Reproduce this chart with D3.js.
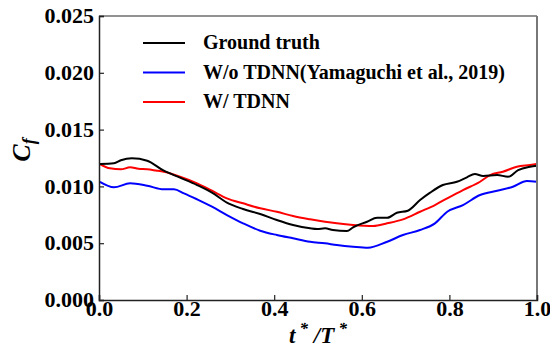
<!DOCTYPE html>
<html>
<head>
<meta charset="utf-8">
<script src="https://cdn.jsdelivr.net/npm/d3@7"></script>
<style>
  body { margin: 0; background: #fff; }
  text { font-family: "Liberation Serif", "Times New Roman", Times, "DejaVu Serif", serif; font-weight: bold; }
</style>
</head>
<body>
<div></div>
<script>
var width = 550, height = 351;
var margin = {top: 16, right: 13, bottom: 51, left: 99};
var serifFont = "'Liberation Serif', 'Times New Roman', Times, 'DejaVu Serif', serif";

// t*/T* sample positions and Cf values
var truthT = [0.002, 0.034, 0.05, 0.075, 0.110, 0.148, 0.185, 0.224, 0.258, 0.292, 0.329, 0.368, 0.406, 0.443, 0.482, 0.498, 0.516, 0.534, 0.566, 0.580, 0.612, 0.635, 0.658, 0.680, 0.705, 0.733, 0.756, 0.785, 0.817, 0.840, 0.858, 0.877, 0.909, 0.934, 0.957, 0.984, 1.0];
var truthCf = [0.01197, 0.01203, 0.01230, 0.01247, 0.01226, 0.01138, 0.01077, 0.01012, 0.00945, 0.00857, 0.00801, 0.00757, 0.00704, 0.00660, 0.00631, 0.00625, 0.00631, 0.00616, 0.00607, 0.00640, 0.00689, 0.00724, 0.00724, 0.00768, 0.00786, 0.00880, 0.00945, 0.01012, 0.01041, 0.01080, 0.01109, 0.01092, 0.01100, 0.01085, 0.01144, 0.01173, 0.01182];

var woT = [0.002, 0.034, 0.071, 0.110, 0.148, 0.171, 0.194, 0.224, 0.258, 0.292, 0.329, 0.368, 0.406, 0.443, 0.482, 0.516, 0.543, 0.580, 0.614, 0.658, 0.694, 0.733, 0.767, 0.795, 0.831, 0.870, 0.909, 0.945, 0.977, 1.0];
var woCf = [0.01039, 0.00992, 0.01027, 0.01006, 0.00974, 0.00974, 0.00939, 0.00886, 0.00821, 0.00748, 0.00675, 0.00610, 0.00572, 0.00543, 0.00513, 0.00499, 0.00484, 0.00469, 0.00460, 0.00513, 0.00572, 0.00616, 0.00675, 0.00777, 0.00836, 0.00924, 0.00962, 0.00997, 0.01048, 0.01041];

var wT = [0.002, 0.025, 0.050, 0.071, 0.090, 0.110, 0.130, 0.148, 0.185, 0.224, 0.258, 0.292, 0.329, 0.368, 0.406, 0.443, 0.482, 0.516, 0.543, 0.580, 0.626, 0.658, 0.694, 0.733, 0.767, 0.795, 0.831, 0.870, 0.893, 0.922, 0.954, 0.984, 1.0];
var wCf = [0.01197, 0.01159, 0.01150, 0.01168, 0.01155, 0.01151, 0.01140, 0.01129, 0.01085, 0.01027, 0.00962, 0.00895, 0.00851, 0.00807, 0.00777, 0.00739, 0.00710, 0.00689, 0.00675, 0.00660, 0.00651, 0.00675, 0.00710, 0.00777, 0.00836, 0.00895, 0.00968, 0.01041, 0.01100, 0.01129, 0.01173, 0.01188, 0.01197];

var seriesNames = ["Ground truth", "W/o TDNN(Yamaguchi et al., 2019)", "W/ TDNN"];
var seriesColors = ["#000000", "#0000ff", "#ff0000"];
var xTicks = [0, 0.2, 0.4, 0.6, 0.8, 1.0];
var yTicks = [0, 0.005, 0.010, 0.015, 0.020, 0.025];

var series = [
  {name: seriesNames[0], color: seriesColors[0], t: truthT, v: truthCf},
  {name: seriesNames[1], color: seriesColors[1], t: woT, v: woCf},
  {name: seriesNames[2], color: seriesColors[2], t: wT, v: wCf}
];

var svg = d3.select("div").append("svg")
    .attr("width", width)
    .attr("height", height)
    .style("font-family", serifFont);

var x = d3.scaleLinear().domain([0, 1]).range([margin.left, width - margin.right]);
var y = d3.scaleLinear().domain([0, 0.025]).range([height - margin.bottom, margin.top]);

var line = d3.line()
    .x(function(d) { return x(d[0]); })
    .y(function(d) { return y(d[1]); })
    .curve(d3.curveMonotoneX);

// curves, order: blue, red, black on top like the figure
[1, 2, 0].forEach(function(i) {
  var s = series[i];
  svg.append("path")
      .datum(s.t.map(function(t, j) { return [t, s.v[j]]; }))
      .attr("d", line)
      .attr("fill", "none")
      .attr("stroke", s.color)
      .attr("stroke-width", 2);
});

// frame
svg.append("line").attr("x1", x(0)).attr("x2", x(1)).attr("y1", y(0.025)).attr("y2", y(0.025))
    .attr("stroke", "#6e6e6e").attr("stroke-width", 1.5);
svg.append("line").attr("x1", x(1)).attr("x2", x(1)).attr("y1", y(0.025)).attr("y2", y(0))
    .attr("stroke", "#777").attr("stroke-width", 2);

var xAxis = svg.append("g")
    .attr("transform", "translate(0," + y(0) + ")")
    .call(d3.axisBottom(x).tickValues(xTicks).tickFormat(d3.format(".1f")).tickSize(-5).tickPadding(4));
var yAxis = svg.append("g")
    .attr("transform", "translate(" + x(0) + ",0)")
    .call(d3.axisLeft(y).tickValues(yTicks).tickFormat(d3.format(".3f")).tickSize(-5).tickPadding(5));

[xAxis, yAxis].forEach(function(g) {
  g.attr("font-family", null);
  g.select(".domain").attr("stroke", "#222").attr("stroke-width", 1.5);
  g.selectAll(".tick line").attr("stroke", "#222").attr("stroke-width", 1.2);
  g.selectAll(".tick text")
      .attr("fill", "#000")
      .style("font-family", serifFont)
      .style("font-weight", "bold")
      .style("font-size", "22px");
});
xAxis.selectAll(".tick text").attr("dy", "0.55em");
yAxis.selectAll(".tick text").attr("dy", "0.3em");

// axis labels
svg.append("text")
    .attr("x", 318).attr("y", 343)
    .attr("text-anchor", "middle")
    .style("font-size", "23px")
    .style("font-style", "italic")
    .html("t<tspan dy='-9' font-size='17'> *</tspan><tspan dy='9'> /T</tspan><tspan dy='-9' font-size='17'> *</tspan>");

svg.append("text")
    .attr("transform", "translate(30,150) rotate(-90)")
    .attr("text-anchor", "middle")
    .style("font-size", "26px")
    .style("font-style", "italic")
    .html("C<tspan dy='5' font-size='18'>f</tspan>");

// legend
var legend = svg.append("g");
series.forEach(function(s, i) {
  var ly = 43 + i * 29.5;
  legend.append("line")
      .attr("x1", 143).attr("x2", 185)
      .attr("y1", ly).attr("y2", ly)
      .attr("stroke", s.color).attr("stroke-width", 2);
  legend.append("text")
      .attr("x", 203).attr("y", ly + 6)
      .style("font-size", "20px")
      .text(s.name);
});
</script>
</body>
</html>
